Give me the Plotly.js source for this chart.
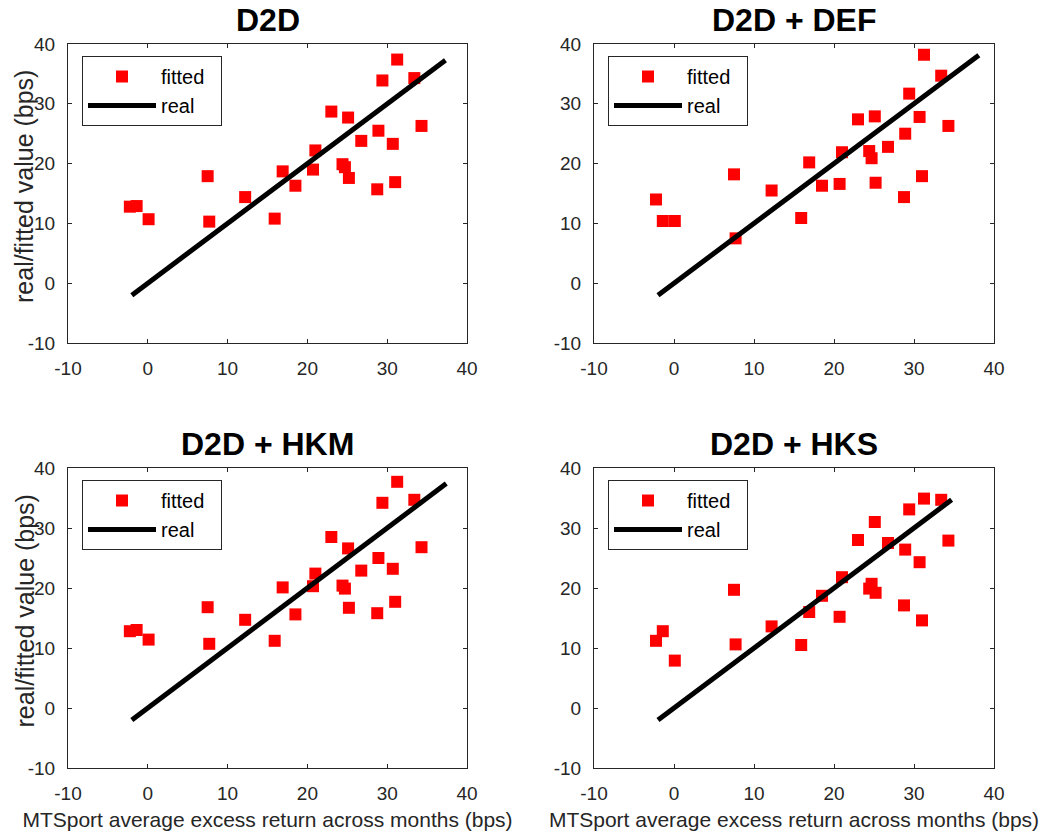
<!DOCTYPE html>
<html>
<head>
<meta charset="utf-8">
<script src="https://cdn.plot.ly/plotly-3.0.1.min.js"></script>
<style>html,body{margin:0;padding:0;background:#fff;}#chart{width:1044px;height:835px;}</style>
</head>
<body>
<div id="chart"></div>
<script>
// Data
var panelTitles = ["D2D", "D2D + DEF", "D2D + HKM", "D2D + HKS"];
var realX = [-2.25, -1.4, 0.1, 7.5, 7.7, 12.2, 15.9, 16.9, 18.5, 20.7, 21.0, 23.0, 24.4, 24.7, 25.1, 25.2, 26.75, 28.75, 28.9, 29.4, 30.7, 31.0, 31.25, 33.4, 34.3];
var fittedD2D = [12.8, 12.9, 10.7, 17.9, 10.3, 14.4, 10.8, 18.7, 16.3, 19.0, 22.2, 28.7, 19.9, 19.4, 27.7, 17.6, 23.8, 15.7, 25.5, 33.9, 23.3, 16.9, 37.4, 34.3, 26.3];
var fittedDEF = [14.0, 10.4, 10.4, 18.2, 7.5, 15.5, 10.9, 20.2, 16.3, 16.6, 21.9, 27.4, 22.1, 20.9, 27.9, 16.8, 22.8, 14.4, 25.0, 31.7, 27.8, 17.9, 38.2, 34.7, 26.3];
var fittedHKM = [12.8, 13.0, 11.4, 16.8, 10.7, 14.7, 11.2, 20.1, 15.6, 20.3, 22.4, 28.5, 20.4, 19.9, 26.6, 16.7, 22.9, 15.8, 25.0, 34.2, 23.2, 17.7, 37.7, 34.7, 26.8];
var fittedHKS = [11.2, 12.8, 7.9, 19.7, 10.6, 13.6, 10.5, 16.0, 18.7, 15.2, 21.8, 28.0, 19.9, 20.7, 31.0, 19.2, 27.5, 17.1, 26.4, 33.1, 24.3, 14.6, 34.9, 34.7, 27.9];
var realLineD2D = [-2.0, 37.3];
var realLineDEF = [-2.0, 38.1];
var realLineHKM = [-2.0, 37.4];
var realLineHKS = [-2.0, 34.7];
var tickVals = [-10, 0, 10, 20, 30, 40];
var tickText = ["-10", "0", "10", "20", "30", "40"];
var yAxisLabel = "real/fitted value (bps)";
var xAxisLabel = "MTSport average excess return across months (bps)";
var seriesNames = ["fitted", "real"];

var fittedSets = [fittedD2D, fittedDEF, fittedHKM, fittedHKS];
var realLines = [realLineD2D, realLineDEF, realLineHKM, realLineHKS];

var W = 1044, H = 835;
var pxX = [[68, 467], [594, 994], [68, 467], [594, 994]];
var pxY = [[44, 343], [44, 343], [468, 768], [468, 768]];
var FONT = "Liberation Sans, Arial, sans-serif";
var DARK = "#262626";
var NBSP = "\u00A0";

var traces = [];
var layout = {
  width: W, height: H,
  margin: {l: 0, r: 0, t: 0, b: 0},
  paper_bgcolor: "#fff", plot_bgcolor: "#fff",
  font: {family: FONT, color: DARK, size: 16},
  annotations: []
};

for (var i = 0; i < 4; i++) {
  var n = i + 1;
  var xa = "x" + (n === 1 ? "" : n);
  var ya = "y" + (n === 1 ? "" : n);
  var lg = "legend" + (n === 1 ? "" : n);
  traces.push({
    x: realX, y: fittedSets[i], xaxis: xa, yaxis: ya, legend: lg,
    type: "scatter", mode: "markers", name: seriesNames[0] + NBSP + NBSP,
    marker: {symbol: "square", size: 12, color: "#ff0000"},
    showlegend: true
  });
  traces.push({
    x: realLines[i], y: realLines[i], xaxis: xa, yaxis: ya, legend: lg,
    type: "scatter", mode: "lines", name: seriesNames[1],
    line: {color: "#000000", width: 5},
    showlegend: true
  });
  var dx = [pxX[i][0] / W, pxX[i][1] / W];
  var dy = [1 - pxY[i][1] / H, 1 - pxY[i][0] / H];
  var xKey = "xaxis" + (n === 1 ? "" : n);
  var yKey = "yaxis" + (n === 1 ? "" : n);
  layout[xKey] = {
    domain: dx, range: [-10, 40], anchor: ya,
    tickmode: "array", tickvals: tickVals, ticktext: tickText,
    ticks: "inside", ticklen: 4, tickcolor: DARK, tickwidth: 1,
    showline: true, linecolor: DARK, linewidth: 1, mirror: "ticks",
    showgrid: false, zeroline: false,
    tickfont: {family: FONT, size: 19, color: DARK},
    ticklabelstandoff: 8,
    title: (i >= 2) ? {text: xAxisLabel, font: {family: FONT, size: 21, color: DARK}, standoff: 9} : {text: ""}
  };
  layout[yKey] = {
    domain: dy, range: [-10, 40], anchor: xa,
    tickmode: "array", tickvals: tickVals, ticktext: tickText,
    ticks: "inside", ticklen: 4, tickcolor: DARK, tickwidth: 1,
    showline: true, linecolor: DARK, linewidth: 1, mirror: "ticks",
    showgrid: false, zeroline: false,
    tickfont: {family: FONT, size: 19, color: DARK},
    ticklabelstandoff: 8,
    title: {text: ""}
  };
  layout[lg] = {
    x: (pxX[i][0] + 14) / W, y: 1 - (pxY[i][0] + 12) / H,
    xanchor: "left", yanchor: "top", xref: "paper", yref: "paper",
    bgcolor: "#fff", bordercolor: DARK, borderwidth: 1,
    font: {family: FONT, size: 20, color: "#000"},
    itemwidth: 68, traceorder: "normal"
  };
  layout.annotations.push({
    text: "<b>" + panelTitles[i] + "</b>", xref: "paper", yref: "paper",
    x: (pxX[i][0] + pxX[i][1]) / 2 / W, y: 1 - (pxY[i][0] - 24) / H,
    xanchor: "center", yanchor: "middle", showarrow: false,
    font: {family: FONT, size: 32, color: "#000"}
  });
  if (i % 2 === 0) {
    layout.annotations.push({
      text: yAxisLabel, xref: "paper", yref: "paper", textangle: -90,
      x: 24 / W, y: 1 - ((pxY[i][0] + pxY[i][1]) / 2 - 6.5) / H,
      xanchor: "center", yanchor: "middle", showarrow: false,
      font: {family: FONT, size: 25, color: DARK}
    });
  }
}

Plotly.newPlot("chart", traces, layout, {displayModeBar: false, staticPlot: true});
</script>
</body>
</html>
